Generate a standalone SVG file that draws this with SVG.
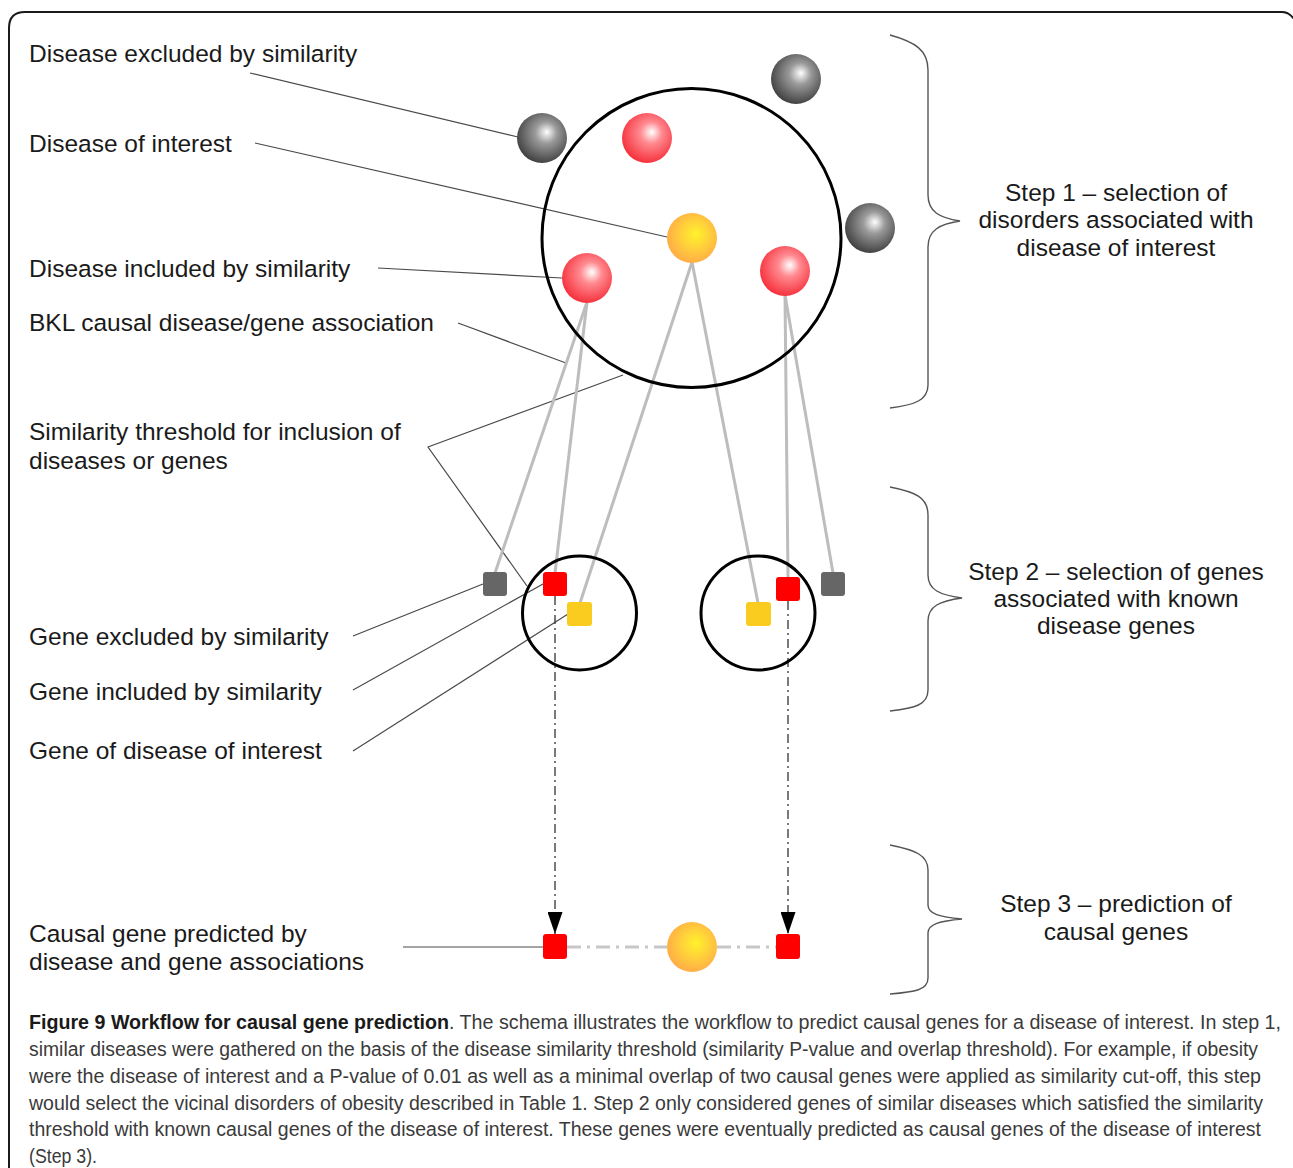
<svg xmlns="http://www.w3.org/2000/svg" width="1293" height="1168" viewBox="0 0 1293 1168">
<style>
.lbl{font-family:"Liberation Sans",Arial,sans-serif;font-size:24.5px;fill:#1a1a1a}
.step{font-family:"Liberation Sans",Arial,sans-serif;font-size:24.5px;fill:#1a1a1a;text-anchor:middle}
.cap{font-family:"Liberation Sans",Arial,sans-serif;font-size:20px;fill:#3a3a3a}
.capb{font-family:"Liberation Sans",Arial,sans-serif;font-size:20px;font-weight:bold;fill:#1a1a1a}
.callout{stroke:#4a4a4a;stroke-width:1.2;fill:none}
.assoc{stroke:#bdbdbd;stroke-width:3;fill:none}
.pred{stroke:#333;stroke-width:1.3;stroke-dasharray:9 4 2 4;fill:none}
.link{stroke:#c8c8c8;stroke-width:3;stroke-dasharray:14 6 3 6;fill:none}
.ring{stroke:#000;stroke-width:3;fill:none}
.brace{stroke:#555;stroke-width:1.4;fill:none}
.sq-gray{fill:#666}
.sq-red{fill:#ff0000}
.sq-yel{fill:#f9cc1f}
</style>
<defs>
<radialGradient id="gRed" cx="0.55" cy="0.42" r="0.62" fx="0.6" fy="0.38">
<stop offset="0" stop-color="#ffffff"/>
<stop offset="0.35" stop-color="#ff8a90"/>
<stop offset="1" stop-color="#f52a35"/>
</radialGradient>
<radialGradient id="gGray" cx="0.55" cy="0.42" r="0.62" fx="0.6" fy="0.38">
<stop offset="0" stop-color="#ffffff"/>
<stop offset="0.35" stop-color="#9a9a9a"/>
<stop offset="1" stop-color="#3a3a3a"/>
</radialGradient>
<radialGradient id="gOrange" cx="0.55" cy="0.45" r="0.6" fx="0.58" fy="0.42">
<stop offset="0" stop-color="#fff22a"/>
<stop offset="0.45" stop-color="#ffd23a"/>
<stop offset="1" stop-color="#ffa848"/>
</radialGradient>
<marker id="arrow" markerUnits="userSpaceOnUse" viewBox="0 0 22 15" refX="22" refY="7.5" markerWidth="22" markerHeight="15" orient="auto">
<path d="M0,0 L22,7.5 L0,15 z" fill="#000"/>
</marker>
</defs>

<rect width="1293" height="1168" fill="#fff"/>
<path d="M9,1175 V28 Q9,12 25,12 H1282 Q1291,12 1297,24" fill="none" stroke="#1a1a1a" stroke-width="2"/>

<g id="connectors">
<line class="callout" x1="250" y1="73" x2="518" y2="137"/>
<line class="callout" x1="255" y1="143" x2="667" y2="237"/>
<line class="callout" x1="378" y1="268" x2="562" y2="278"/>
<line class="callout" x1="458" y1="323" x2="566" y2="363"/>
<polyline class="callout" points="623,375 428,447 527,586"/>
<line class="callout" x1="353" y1="636" x2="483" y2="584"/>
<line class="callout" x1="353" y1="690" x2="543" y2="584"/>
<line class="callout" x1="353" y1="751" x2="568" y2="614"/>
<line class="callout" x1="403" y1="947" x2="543" y2="947"/>
<line class="assoc" x1="587" y1="302" x2="495" y2="573"/>
<line class="assoc" x1="587" y1="302" x2="555" y2="573"/>
<line class="assoc" x1="692" y1="262" x2="580" y2="603"/>
<line class="assoc" x1="692" y1="262" x2="758" y2="603"/>
<line class="assoc" x1="785" y1="295" x2="788" y2="578"/>
<line class="assoc" x1="785" y1="295" x2="833" y2="573"/>
<line class="pred" x1="555" y1="596" x2="555" y2="934" marker-end="url(#arrow)"/>
<line class="pred" x1="788" y1="601" x2="788" y2="934" marker-end="url(#arrow)"/>
<line class="link" x1="567" y1="947" x2="667" y2="947"/>
<line class="link" x1="717" y1="947" x2="776" y2="947"/>
</g>

<g id="disease-circle"><circle class="ring" cx="691.5" cy="238" r="149.5"/></g>
<g id="gene-circle-left"><circle class="ring" cx="579.5" cy="613" r="57"/></g>
<g id="gene-circle-right"><circle class="ring" cx="758" cy="613" r="57"/></g>

<g id="disease-excluded-1"><circle cx="542" cy="138" r="25" fill="url(#gGray)"/></g>
<g id="disease-excluded-2"><circle cx="796" cy="79" r="25" fill="url(#gGray)"/></g>
<g id="disease-excluded-3"><circle cx="870" cy="228" r="25" fill="url(#gGray)"/></g>
<g id="disease-included-1"><circle cx="647" cy="138" r="25" fill="url(#gRed)"/></g>
<g id="disease-included-2"><circle cx="587" cy="278" r="25" fill="url(#gRed)"/></g>
<g id="disease-included-3"><circle cx="785" cy="271" r="25" fill="url(#gRed)"/></g>
<g id="disease-of-interest"><circle cx="692" cy="238" r="25" fill="url(#gOrange)"/></g>

<g id="gene-excluded-left"><rect class="sq-gray" x="483" y="572" width="24" height="24" rx="3"/></g>
<g id="gene-included-left"><rect class="sq-red" x="543" y="572" width="24" height="24" rx="3"/></g>
<g id="gene-interest-left"><rect class="sq-yel" x="567" y="602" width="25" height="24" rx="3"/></g>
<g id="gene-interest-right"><rect class="sq-yel" x="746" y="602" width="25" height="24" rx="3"/></g>
<g id="gene-included-right"><rect class="sq-red" x="776" y="577" width="24" height="24" rx="3"/></g>
<g id="gene-excluded-right"><rect class="sq-gray" x="821" y="572" width="24" height="24" rx="3"/></g>

<g id="predicted-left"><rect class="sq-red" x="543" y="934" width="24" height="25" rx="3"/></g>
<g id="predicted-disease"><circle cx="692" cy="947" r="25" fill="url(#gOrange)"/></g>
<g id="predicted-right"><rect class="sq-red" x="776" y="934" width="24" height="25" rx="3"/></g>

<g id="labels">
<text class="lbl" x="29" y="62">Disease excluded by similarity</text>
<text class="lbl" x="29" y="152">Disease of interest</text>
<text class="lbl" x="29" y="277">Disease included by similarity</text>
<text class="lbl" x="29" y="331">BKL causal disease/gene association</text>
<text class="lbl" x="29" y="440">Similarity threshold for inclusion of</text>
<text class="lbl" x="29" y="469">diseases or genes</text>
<text class="lbl" x="29" y="645">Gene excluded by similarity</text>
<text class="lbl" x="29" y="700">Gene included by similarity</text>
<text class="lbl" x="29" y="759">Gene of disease of interest</text>
<text class="lbl" x="29" y="942">Causal gene predicted by</text>
<text class="lbl" x="29" y="970">disease and gene associations</text>
</g>

<g id="step1">
<path class="brace" d="M890,35 C915,42 928,50 928,70 V195 C928,212 940,218 960,221 C940,224 928,230 928,247 V385 C928,400 915,405 890,408"/>
<text class="step" x="1116" y="201">Step 1 – selection of</text>
<text class="step" x="1116" y="228">disorders associated with</text>
<text class="step" x="1116" y="256">disease of interest</text>
</g>
<g id="step2">
<path class="brace" d="M890,487 C915,492 928,497 928,515 V575 C928,590 940,595 962,598 C940,601 928,606 928,621 V690 C928,705 915,708 890,711"/>
<text class="step" x="1116" y="580">Step 2 – selection of genes</text>
<text class="step" x="1116" y="607">associated with known</text>
<text class="step" x="1116" y="634">disease genes</text>
</g>
<g id="step3">
<path class="brace" d="M890,845 C915,850 928,855 928,870 V905 C928,914 940,917 962,919 C940,921 928,924 928,933 V978 C928,990 915,992 890,994"/>
<text class="step" x="1116" y="912">Step 3 – prediction of</text>
<text class="step" x="1116" y="940">causal genes</text>
</g>

<g id="caption">
<text class="capb" x="29" y="1029" textLength="420" lengthAdjust="spacingAndGlyphs">Figure 9 Workflow for causal gene prediction</text>
<text class="cap" x="449" y="1029" textLength="832" lengthAdjust="spacingAndGlyphs">. The schema illustrates the workflow to predict causal genes for a disease of interest. In step 1,</text>
<text class="cap" x="29" y="1056" textLength="1229" lengthAdjust="spacingAndGlyphs">similar diseases were gathered on the basis of the disease similarity threshold (similarity P-value and overlap threshold). For example, if obesity</text>
<text class="cap" x="29" y="1083" textLength="1232" lengthAdjust="spacingAndGlyphs">were the disease of interest and a P-value of 0.01 as well as a minimal overlap of two causal genes were applied as similarity cut-off, this step</text>
<text class="cap" x="29" y="1110" textLength="1234" lengthAdjust="spacingAndGlyphs">would select the vicinal disorders of obesity described in Table 1. Step 2 only considered genes of similar diseases which satisfied the similarity</text>
<text class="cap" x="29" y="1136" textLength="1232" lengthAdjust="spacingAndGlyphs">threshold with known causal genes of the disease of interest. These genes were eventually predicted as causal genes of the disease of interest</text>
<text class="cap" x="29" y="1163" textLength="68" lengthAdjust="spacingAndGlyphs">(Step 3).</text>
</g>
</svg>
